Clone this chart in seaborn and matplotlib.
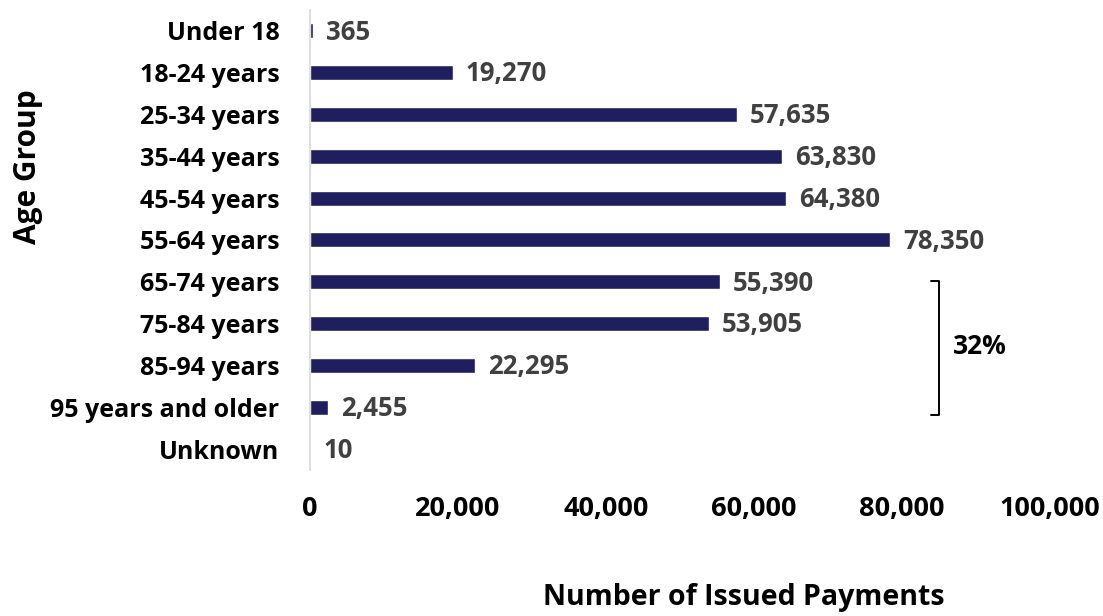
import matplotlib
matplotlib.use("Agg")
import matplotlib.pyplot as plt
import seaborn as sns
import pandas as pd

categories = ["Under 18", "18-24 years", "25-34 years", "35-44 years", "45-54 years",
              "55-64 years", "65-74 years", "75-84 years", "85-94 years",
              "95 years and older", "Unknown"]
values = [365, 19270, 57635, 63830, 64380, 78350, 55390, 53905, 22295, 2455, 10]
xticks = [0, 20000, 40000, 60000, 80000, 100000]

sns.set_theme(style="white")
plt.rcParams['font.family'] = ['Open Sans', 'DejaVu Sans']

df = pd.DataFrame({"group": categories, "count": values})

fig = plt.figure(figsize=(11.03, 6.16), dpi=100)
ax = fig.add_axes([0.281, 0.237, 0.671, 0.747])
sns.barplot(data=df, y="group", x="count", orient="h", color="#1F1E5E",
            width=0.36, saturation=1, ax=ax)
ax.set_xlim(0, 100000)
ax.set_ylim(10.5, -0.5)
ax.set_xticks(xticks)
ax.set_xticklabels([f"{v:,}" for v in xticks], fontsize=19.5, fontweight="bold", color="black")
ax.set_yticks(range(len(categories)))
ax.set_yticklabels(categories, fontsize=18, fontweight="bold", color="black")
ax.tick_params(axis="x", length=0, pad=19)
ax.tick_params(axis="y", length=0, pad=22)
ax.set_xlabel("")
ax.set_ylabel("")
for s in ["top", "right", "bottom"]:
    ax.spines[s].set_visible(False)
ax.spines["left"].set_color("#d9d9d9")
ax.spines["left"].set_linewidth(1.2)

for i, v in enumerate(values):
    ax.annotate(f"{v:,}", xy=(v, i), xytext=(9.5, -1), textcoords="offset points",
                ha="left", va="center", fontsize=18.5, fontweight="bold", color="#404040")

# bracket
bx = 939 / 1103
y1 = 1 - 281 / 616
y2 = 1 - 415 / 616
tick = 8 / 1103
fig.add_artist(plt.Line2D([bx - tick, bx, bx, bx - tick], [y1, y1, y2, y2],
                          transform=fig.transFigure, color="black", lw=1.4))
fig.text(979.5 / 1103, 1 - 347 / 616, "32%", ha="center", va="center",
         fontsize=19, fontweight="bold", color="black")

fig.text(744 / 1103, 1 - 598 / 616, "Number of Issued Payments", ha="center", va="center",
         fontsize=20.5, fontweight="bold", color="black")
fig.text(28 / 1103, 1 - 167 / 616, "Age Group", ha="center", va="center", rotation=90,
         fontsize=21.5, fontweight="bold", color="black")

fig.savefig("out.png", dpi=100)
